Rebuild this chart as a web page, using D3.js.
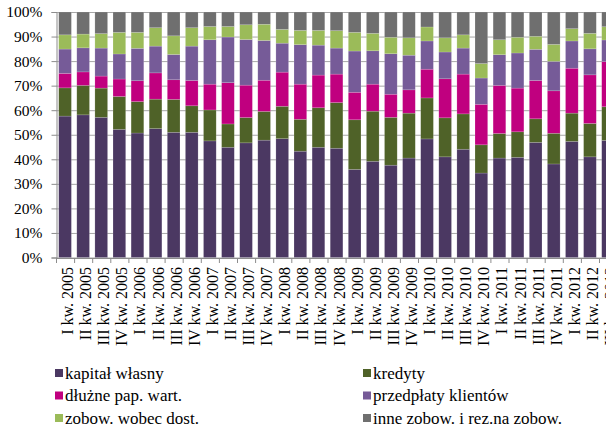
<!DOCTYPE html>
<html>
<head>
<meta charset="utf-8">
<script src="https://cdn.jsdelivr.net/npm/d3@7"></script>
<style>
  body { margin: 0; background: white; }
  svg { display: block; font-family: "Liberation Serif", "Times New Roman", serif; }
</style>
</head>
<body>
<div id="chart"></div>
<script>

// Kwartały (oś X)
var kwartaly = ["I kw. 2005", "II kw. 2005", "III kw. 2005", "IV kw. 2005",
                "I kw. 2006", "II kw. 2006", "III kw. 2006", "IV kw. 2006",
                "I kw. 2007", "II kw. 2007", "III kw. 2007", "IV kw. 2007",
                "I kw. 2008", "II kw. 2008", "III kw. 2008", "IV kw. 2008",
                "I kw. 2009", "II kw. 2009", "III kw. 2009", "IV kw. 2009",
                "I kw. 2010", "II kw. 2010", "III kw. 2010", "IV kw. 2010",
                "I kw. 2011", "II kw. 2011", "III kw. 2011", "IV kw. 2011",
                "I kw. 2012", "II kw. 2012", "III kw. 2012"];

// Udziały w %
var kapital = [57.6, 58.1, 57.1, 52.2, 50.7, 52.5, 51.0, 51.0, 47.5, 44.9, 46.7, 47.8, 48.4, 43.3, 44.9, 44.5,
               35.9, 39.2, 37.6, 40.5, 48.3, 41.0, 44.1, 34.4, 40.5, 40.8, 46.9, 38.1, 47.3, 41.0, 47.7];
var kredyty = [11.5, 12.0, 11.9, 13.4, 12.8, 12.0, 13.4, 10.8, 12.6, 9.5, 10.3, 11.7, 13.2, 13.0, 16.1, 18.6,
               20.2, 20.4, 19.5, 18.3, 16.7, 15.9, 14.4, 11.5, 10.0, 10.4, 9.6, 12.5, 11.5, 13.6, 13.7];
var dluzne = [5.9, 5.5, 4.9, 7.1, 8.5, 10.7, 8.0, 10.3, 10.5, 16.8, 13.2, 12.7, 13.9, 14.3, 13.3, 11.6,
              11.2, 11.0, 9.4, 9.5, 11.7, 15.9, 16.2, 16.5, 19.6, 17.8, 15.6, 17.3, 18.3, 19.8, 18.4];
var przedplaty = [9.9, 9.8, 11.4, 10.2, 13.2, 10.9, 10.3, 14.0, 18.1, 18.6, 18.6, 16.2, 11.8, 16.1, 12.2, 10.6,
                  16.8, 13.6, 16.5, 14.1, 11.5, 10.9, 10.6, 10.7, 12.5, 14.3, 12.7, 12.0, 11.1, 10.6, 8.8];
var dostawcy = [5.8, 5.6, 5.9, 8.8, 6.5, 7.5, 7.6, 7.5, 5.4, 4.3, 6.0, 6.6, 5.6, 5.8, 6.0, 7.1,
                7.6, 7.1, 6.7, 7.1, 5.7, 5.8, 5.4, 5.9, 6.1, 6.4, 5.3, 6.9, 5.0, 6.3, 5.4];
var inne = [9.3, 9.0, 8.8, 8.3, 8.3, 6.4, 9.7, 6.4, 5.9, 5.9, 5.2, 5.0, 7.1, 7.5, 7.5, 7.6,
            8.3, 8.7, 10.3, 10.5, 6.1, 10.5, 9.3, 21.0, 11.3, 10.3, 9.9, 13.2, 6.8, 8.7, 6.0];

var serie = ["kapitał własny", "kredyty", "dłużne pap. wart.", "przedpłaty klientów",
             "zobow. wobec dost.", "inne zobow. i rez.na zobow."];
var kolory = ["#4b3862", "#4f6228", "#c0007f", "#765b98", "#9bbb59", "#6f6f6f"];
var yTicks = [0, 10, 20, 30, 40, 50, 60, 70, 80, 90, 100];

window.onload = function() {

  var svgW = 606, svgH = 427;
  var margin = {left: 56, top: 12};
  var plotH = 245.5;
  var step = 18.1;

  // Build table for the stack
  var values = [kapital, kredyty, dluzne, przedplaty, dostawcy, inne];
  var table = kwartaly.map(function(k, i) {
    var row = {kw: k};
    serie.forEach(function(s, j) { row[s] = values[j][i]; });
    return row;
  });

  var stack = d3.stack().keys(serie)(table);

  var xScale = d3.scaleBand()
                  .domain(kwartaly)
                  .range([margin.left, margin.left + step * kwartaly.length])
                  .paddingInner(0.3)
                  .paddingOuter(0.15);

  var yScale = d3.scaleLinear()
                  .domain([0, 100])
                  .range([margin.top + plotH, margin.top]);

  var color = d3.scaleOrdinal().domain(serie).range(kolory);

  var svg = d3.select("#chart")
              .append("svg")
                .attr("width", svgW)
                .attr("height", svgH);

  // Gridlines
  svg.append("g")
      .selectAll("line")
      .data(yTicks)
      .enter()
      .append("line")
        .attr("x1", margin.left)
        .attr("x2", svgW + 20)
        .attr("y1", function(d) { return yScale(d) + 0.5; })
        .attr("y2", function(d) { return yScale(d) + 0.5; })
        .attr("stroke", "#a6a6a6")
        .attr("stroke-width", 1);

  // Bars
  svg.append("g")
      .selectAll("g")
      .data(stack)
      .enter()
      .append("g")
        .attr("fill", function(d) { return color(d.key); })
      .selectAll("rect")
      .data(function(d) { return d; })
      .enter()
      .append("rect")
        .attr("x", function(d) { return xScale(d.data.kw); })
        .attr("width", xScale.bandwidth())
        .attr("y", function(d) { return yScale(d[1]); })
        .attr("height", function(d) { return yScale(d[0]) - yScale(d[1]); })
        .attr("stroke", "rgba(255,255,255,0.25)")
        .attr("stroke-width", 0.6);

  // Y axis
  var yAxis = d3.axisLeft(yScale)
                .tickValues(yTicks)
                .tickFormat(function(d) { return d + "%"; })
                .tickSize(5)
                .tickPadding(9);
  var gy = svg.append("g")
              .attr("transform", "translate(" + (margin.left + 0.5) + ",0)")
              .call(yAxis);
  gy.select(".domain").attr("stroke", "#8c8c8c");
  gy.selectAll(".tick line").attr("stroke", "#8c8c8c");
  gy.selectAll(".tick text")
      .attr("fill", "#000")
      .style("font-family", "Liberation Serif")
      .style("font-size", "15.5px");

  // X axis
  var xAxis = d3.axisBottom(xScale).tickSize(0).tickPadding(0);
  var gx = svg.append("g")
              .attr("transform", "translate(0," + (margin.top + plotH + 0.5) + ")")
              .call(xAxis);
  gx.select(".domain").attr("stroke", "#8c8c8c");
  gx.selectAll(".tick text")
      .attr("fill", "#000")
      .style("font-family", "Liberation Serif")
      .style("font-size", "16px")
      .style("text-anchor", "end")
      .attr("transform", "rotate(-90)")
      .attr("x", -9)
      .attr("y", 0)
      .attr("dy", "0.5em");

  // Tick marks at band boundaries
  gx.append("g")
      .selectAll("line")
      .data(kwartaly)
      .enter()
      .append("line")
        .attr("x1", function(d) { return xScale(d) - xScale.step() * xScale.paddingInner() / 2 + 0.5; })
        .attr("x2", function(d) { return xScale(d) - xScale.step() * xScale.paddingInner() / 2 + 0.5; })
        .attr("y1", 0)
        .attr("y2", 5)
        .attr("stroke", "#8c8c8c");

  // Legend
  var legend = svg.append("g")
                  .selectAll("g")
                  .data(serie)
                  .enter()
                  .append("g")
                    .attr("transform", function(d, i) {
                      var col = i % 2, row = Math.floor(i / 2);
                      return "translate(" + (55 + col * 308) + "," + (369 + row * 22.5) + ")";
                    });

  legend.append("rect")
          .attr("width", 8)
          .attr("height", 8)
          .attr("fill", function(d) { return color(d); });

  legend.append("text")
          .attr("x", 10)
          .attr("y", 9.5)
          .style("font-size", "17px")
          .attr("fill", "#000")
          .text(function(d) { return d; });
};
</script>
</body>
</html>
